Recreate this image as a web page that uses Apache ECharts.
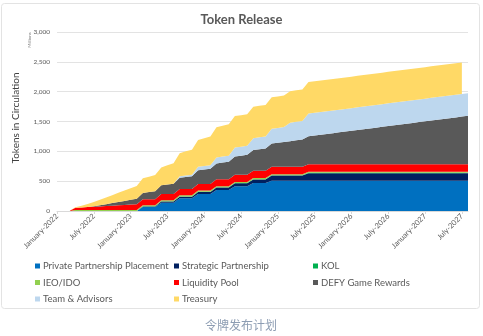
<!DOCTYPE html>
<html>
<head>
<meta charset="utf-8">
<script src="https://cdn.jsdelivr.net/npm/echarts@6/dist/echarts.min.js"></script>
<style>
html,body{margin:0;padding:0;background:#fff;}
#c{width:483px;height:336px;}
</style>
</head>
<body>
<div id="c"></div>
<script>
var categories = [
"January-2022","February-2022","March-2022","April-2022","May-2022","June-2022","July-2022","August-2022","September-2022","October-2022","November-2022","December-2022",
"January-2023","February-2023","March-2023","April-2023","May-2023","June-2023","July-2023","August-2023","September-2023","October-2023","November-2023","December-2023",
"January-2024","February-2024","March-2024","April-2024","May-2024","June-2024","July-2024","August-2024","September-2024","October-2024","November-2024","December-2024",
"January-2025","February-2025","March-2025","April-2025","May-2025","June-2025","July-2025","August-2025","September-2025","October-2025","November-2025","December-2025",
"January-2026","February-2026","March-2026","April-2026","May-2026","June-2026","July-2026","August-2026","September-2026","October-2026","November-2026","December-2026",
"January-2027","February-2027","March-2027","April-2027","May-2027","June-2027","July-2027","August-2027"
];
var yTicks = [0, 500, 1000, 1500, 2000, 2500, 3000];

var privatePlacement = [0,0,0,0,0,0,0,0,0,0,0,0,0,0,
65,65,65,140,140,140,213,213,213,285,285,285,350,350,350,415,415,415,470,470,470,
508,508,508,508,508,508,508,508,508,508,508,508,508,508,508,508,508,508,508,508,508,508,508,508,508,508,508,508,508,508,508,508,508];
var strategic = [0,0,0,0,0,0,0,0,0,0,0,0,0,0,
10,10,10,18,18,18,26,26,26,34,34,34,42,42,42,50,50,50,58,58,58,
85,85,85,85,85,85,
123,123,123,123,123,123,123,123,123,123,123,123,123,123,123,123,123,123,123,123,123,123,123,123,123,123,123];
var kol = [0,0,0,0,0,0,0,0,0,0,0,0,0,0,
5,5,5,5,5,5,5,5,5,5,5,5,5,5,5,5,5,5,5,5,5,5,5,5,5,5,5,
8,8,8,8,8,8,8,8,8,8,8,8,8,8,8,8,8,8,8,8,8,8,8,8,8,8,8];
var ieoIdo = [0,0,0,
18,18,18,18,18,18,18,18,18,18,18,18,18,18,18,18,18,18,18,18,18,18,18,18,18,18,18,18,18,18,18,18,18,18,18,18,18,18,18,18,18,18,18,18,18,18,18,18,18,18,18,18,18,18,18,18,18,18,18,18,18,18,18,18,18,18,18];
var liquidity = [0,0,0,35,41,47,53,59,65,71,77,83,89,95,
100,100,100,104,104,104,108,108,108,112,112,112,116,116,116,119,119,119,122,122,122,
125,125,125,125,125,125,125,125,125,125,125,125,125,125,125,125,125,125,125,125,125,125,125,125,125,125,125,125,125,125,125,125,125];
var defyRewards = [0,0,0,0,0,0,8,20,32,44,56,68,80,92,
105,119,132,146,159,173,186,200,213,227,240,254,267,281,294,308,321,335,348,362,375,389,402,416,429,443,456,470,
483,496,510,523,536,549,562,576,589,602,615,628,642,655,668,681,694,708,721,734,747,760,774,787,800,813];
var teamAdvisors = [0,0,0,0,0,0,0,0,0,0,0,0,0,0,0,0,0,0,0,0,
25,25,25,60,60,60,100,100,100,150,150,150,200,200,200,250,250,250,310,310,310,
380,380,380,380,380,380,380,380,380,380,380,380,380,380,380,380,380,380,380,380,380,380,380,380,380,380,380];
var treasury = [0,0,0,10,30,51,71,92,112,133,153,174,194,215,
245,258,274,299,321,342,386,405,417,449,466,482,505,518,528,
528,528,528,528,528,528,528,528,528,528,528,528,528,528,528,528,528,528,528,528,528,528,528,528,528,528,528,528,528,528,528,528,528,528,528,528,528,528];

var seriesNames = ["Private Partnership Placement","Strategic Partnership","KOL","IEO/IDO","Liquidity Pool","DEFY Game Rewards","Team & Advisors","Treasury"];
var seriesData = [privatePlacement, strategic, kol, ieoIdo, liquidity, defyRewards, teamAdvisors, treasury];
var colors = ["#0070C0","#002060","#00B050","#92D050","#FF0000","#595959","#BDD7EE","#FFD966"];

var FONT = "Lato, 'Open Sans', sans-serif";
var chart = echarts.init(document.getElementById('c'), null, {renderer:'canvas'});

var series = seriesNames.map(function(n, i){
  return {
    name: n, type: 'line', stack: 'total', data: seriesData[i],
    symbol: 'none', smooth: false,
    lineStyle: {width: 0}, areaStyle: {color: colors[i], opacity: 1},
    itemStyle: {color: colors[i]}, emphasis: {disabled: true}
  };
});

function legendCol(left, names){
  return {
    left: left, top: 261, orient: 'vertical', itemGap: 6.5,
    itemWidth: 5, itemHeight: 5, icon: 'rect', padding: 0,
    textStyle: {fontFamily: FONT, fontSize: 9.5, color: '#595959', padding: [0,0,0,-2]},
    data: names, selectedMode: false
  };
}

chart.setOption({
  animation: false,
  color: colors,
  title: {
    text: 'Token Release', left: 'center', top: 8,
    textStyle: {fontFamily: FONT, fontSize: 13, fontWeight: 'bold', color: '#595959'}
  },
  grid: {left: 57, right: 15, top: 32, bottom: 125},
  xAxis: {
    type: 'category', data: categories, boundaryGap: false,
    axisLine: {lineStyle: {color: '#d9d9d9'}},
    axisTick: {show: true, interval: 5, length: 3, lineStyle: {color: '#d9d9d9'}},
    axisLabel: {interval: 5, rotate: 45, fontFamily: FONT, fontSize: 7.5, color: '#595959', margin: 4},
    splitLine: {show: false}
  },
  yAxis: {
    type: 'value', min: yTicks[0], max: yTicks[yTicks.length-1], interval: 500,
    axisLine: {show: false}, axisTick: {show: false},
    axisLabel: {fontFamily: FONT, fontSize: 6.5, color: '#595959', margin: 7,
      formatter: function(v){ return v.toLocaleString('en-US'); }},
    splitLine: {lineStyle: {color: '#e3e3e3', width: 1}}
  },
  legend: [
    legendCol(35, ["Private Partnership Placement","IEO/IDO","Team & Advisors"]),
    legendCol(174, ["Strategic Partnership","Liquidity Pool","Treasury"]),
    legendCol(313, ["KOL","DEFY Game Rewards"])
  ],
  graphic: [
    {type:'rect', shape:{x:1.5, y:3.5, width:478, height:305, r:3}, style:{fill:'none', stroke:'#e3e3e3', lineWidth:1}, z:-1},
    {type:'text', x:16, y:118, rotation: Math.PI/2,
      style:{text:'Tokens in Circulation', fontFamily: FONT, fontSize: 10, fill:'#404040', align:'center', verticalAlign:'middle'}},
    {type:'text', x:30, y:40, rotation: Math.PI/2,
      style:{text:'Millions', fontFamily: FONT, fontSize: 4.5, fill:'#7f7f7f', align:'center', verticalAlign:'middle'}},
    {type:'text', x:241, y:325,
      style:{text:'令牌发布计划', fontFamily: "'Noto Sans CJK SC', sans-serif", fontSize: 12, fill:'#8d9db3', align:'center', verticalAlign:'middle'}}
  ],
  series: series
});
</script>
</body>
</html>
